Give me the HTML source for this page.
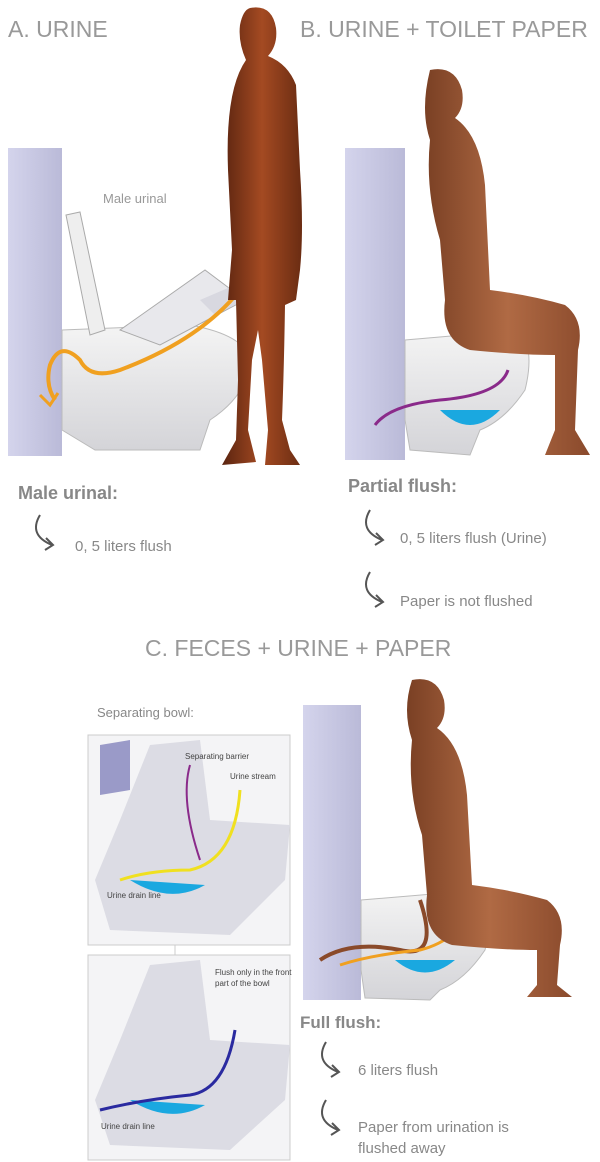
<!DOCTYPE html>
<html><head><meta charset="utf-8"><style>
html,body{margin:0;padding:0;background:#fff;}
svg{display:block;}
text{font-family:"Liberation Sans",sans-serif;}
</style></head><body>
<svg width="600" height="1162" viewBox="0 0 600 1162" xmlns="http://www.w3.org/2000/svg">
<defs>
<linearGradient id="skin" x1="0" x2="1"><stop offset="0" stop-color="#5a2410"/><stop offset="0.5" stop-color="#a44a22"/><stop offset="1" stop-color="#6a2c12"/></linearGradient>
<linearGradient id="skin2" x1="0" x2="1"><stop offset="0" stop-color="#7a4024"/><stop offset="0.5" stop-color="#b06a44"/><stop offset="1" stop-color="#8a4a2c"/></linearGradient>
<linearGradient id="wall" x1="0" x2="1"><stop offset="0" stop-color="#d4d4ec"/><stop offset="1" stop-color="#babad8"/></linearGradient>
<linearGradient id="bowl" x1="0" y1="0" x2="0" y2="1"><stop offset="0" stop-color="#f4f4f4"/><stop offset="1" stop-color="#d4d4d8"/></linearGradient>
</defs>
<g fill="#999" font-size="23">
<text x="8" y="37">A. URINE</text>
<text x="300" y="37">B. URINE + TOILET PAPER</text>
<text x="145" y="656">C. FECES + URINE + PAPER</text>
</g>

<!-- Panel A -->
<rect x="8" y="148" width="54" height="308" fill="url(#wall)"/>
<path d="M62 330 L190 325 Q245 335 250 360 Q248 395 210 420 L200 450 L95 450 L62 430 Z" fill="url(#bowl)" stroke="#bbb"/>
<path d="M66 215 L80 212 L105 330 L90 335 Z" fill="#eee" stroke="#aaa"/>
<path d="M120 330 L205 270 L245 300 L160 345 Z" fill="#e8e8ec" stroke="#aaa"/>
<path d="M200 300 L235 285 L245 300 L215 315 Z" fill="#d8d8e0"/>
<text x="103" y="203" font-size="13" fill="#999">Male urinal</text>
<path d="M240 290 Q200 340 120 370 Q90 380 80 360 Q60 340 50 365 Q45 385 55 400" fill="none" stroke="#f0a020" stroke-width="4"/>
<path d="M40 395 L50 405 L58 393" fill="none" stroke="#f0a020" stroke-width="3"/>
<!-- man -->
<path d="M250 8 Q272 4 276 28 Q278 45 268 56 Q288 64 296 85 L300 170 Q304 230 300 270 L296 300 L285 305 Q284 370 282 420 L290 450 L300 465 L265 465 L268 430 L262 360 L258 330 L252 360 L248 430 L256 462 L222 465 L236 440 L238 380 L236 300 L228 300 L232 250 L228 170 Q225 90 246 60 Q238 42 240 25 Q243 10 250 8 Z" fill="url(#skin)"/>

<!-- Panel B -->
<rect x="345" y="148" width="60" height="312" fill="url(#wall)"/>
<path d="M405 340 L520 330 Q535 350 525 390 Q505 420 480 430 L470 455 L410 450 L405 420 Z" fill="url(#bowl)" stroke="#bbb"/>
<path d="M440 410 Q470 440 500 410 Z" fill="#1aa8e0"/>
<path d="M508 370 Q500 395 440 400 Q390 405 375 425" fill="none" stroke="#8a2a8a" stroke-width="3"/>
<path d="M430 70 Q455 65 462 90 Q465 108 455 118 Q480 135 485 185 L490 290 Q530 295 565 305 Q585 320 578 350 L575 430 L590 455 L545 455 L555 430 L555 355 Q520 355 470 350 Q440 340 445 300 L440 240 Q425 190 430 140 Q420 110 430 70 Z" fill="url(#skin2)"/>

<g fill="#888">
<text x="18" y="499" font-size="18" font-weight="bold">Male urinal:</text>
<text x="348" y="492" font-size="18" font-weight="bold">Partial flush:</text>
<text x="75" y="551" font-size="15">0, 5 liters flush</text>
<text x="400" y="543" font-size="15">0, 5 liters flush (Urine)</text>
<text x="400" y="606" font-size="15">Paper is not flushed</text>
<text x="97" y="717" font-size="13">Separating bowl:</text>
<text x="300" y="1028" font-size="17" font-weight="bold">Full flush:</text>
<text x="358" y="1075" font-size="15">6 liters flush</text>
<text x="358" y="1132" font-size="15">Paper from urination is</text>
<text x="358" y="1153" font-size="15">flushed away</text>
</g>
<g fill="none" stroke="#555" stroke-width="2">
<path d="M40 515 Q28 535 52 545 M46 538 L53 545 L45 550"/>
<path d="M370 510 Q358 530 382 540 M376 533 L383 540 L375 545"/>
<path d="M370 572 Q358 592 382 602 M376 595 L383 602 L375 607"/>
<path d="M326 1042 Q314 1062 338 1072 M332 1065 L339 1072 L331 1077"/>
<path d="M326 1100 Q314 1120 338 1130 M332 1123 L339 1130 L331 1135"/>
</g>

<rect x="88" y="735" width="202" height="210" fill="#f4f4f6" stroke="#ccc"/>
<path d="M150 745 L200 740 L210 820 L290 825 L285 880 L230 935 L110 930 L95 880 L120 820 Z" fill="#dcdce4"/>
<path d="M130 880 Q170 905 205 885 Z" fill="#1aa8e0"/>
<path d="M100 745 L130 740 L130 790 L100 795 Z" fill="#9a9ac8"/>
<path d="M240 790 Q235 860 190 870 Q150 870 120 880" fill="none" stroke="#f0e020" stroke-width="3"/>
<path d="M200 860 Q180 800 190 765" fill="none" stroke="#8a2a8a" stroke-width="2"/>
<text x="185" y="759" font-size="8" fill="#444">Separating barrier</text>
<text x="230" y="779" font-size="8" fill="#444">Urine stream</text>
<text x="107" y="898" font-size="8" fill="#444">Urine drain line</text>
<rect x="88" y="955" width="202" height="205" fill="#f4f4f6" stroke="#ccc"/>
<path d="M150 965 L200 960 L210 1040 L290 1045 L285 1100 L230 1150 L110 1145 L95 1100 L120 1040 Z" fill="#dcdce4"/>
<path d="M130 1100 Q170 1125 205 1105 Z" fill="#1aa8e0"/>
<path d="M235 1030 Q225 1090 190 1095 Q140 1100 100 1110" fill="none" stroke="#2a2aa0" stroke-width="3"/>
<text x="215" y="975" font-size="8" fill="#444">Flush only in the front</text>
<text x="215" y="986" font-size="8" fill="#444">part of the bowl</text>
<text x="101" y="1129" font-size="8" fill="#444">Urine drain line</text>
<line x1="175" y1="945" x2="175" y2="955" stroke="#ccc"/>

<rect x="303" y="705" width="58" height="295" fill="url(#wall)"/>
<path d="M361 900 L480 890 Q495 910 485 950 Q465 980 440 990 L430 1000 L365 998 L361 970 Z" fill="url(#bowl)" stroke="#bbb"/>
<path d="M395 960 Q425 985 455 960 Z" fill="#1aa8e0"/>
<path d="M420 900 Q440 960 400 950 Q350 940 320 960" fill="none" stroke="#8a4a2a" stroke-width="4"/>
<path d="M470 905 Q460 940 420 950 Q370 955 340 965" fill="none" stroke="#f0a020" stroke-width="3"/>
<path d="M412 680 Q437 675 444 700 Q447 718 437 728 Q462 745 467 795 L472 885 Q512 890 547 900 Q567 915 560 945 L557 985 L572 997 L527 997 L537 985 L537 950 Q502 950 452 945 Q422 935 427 895 L422 835 Q407 790 412 740 Q402 710 412 680 Z" fill="url(#skin2)"/>
</svg>
</body></html>
